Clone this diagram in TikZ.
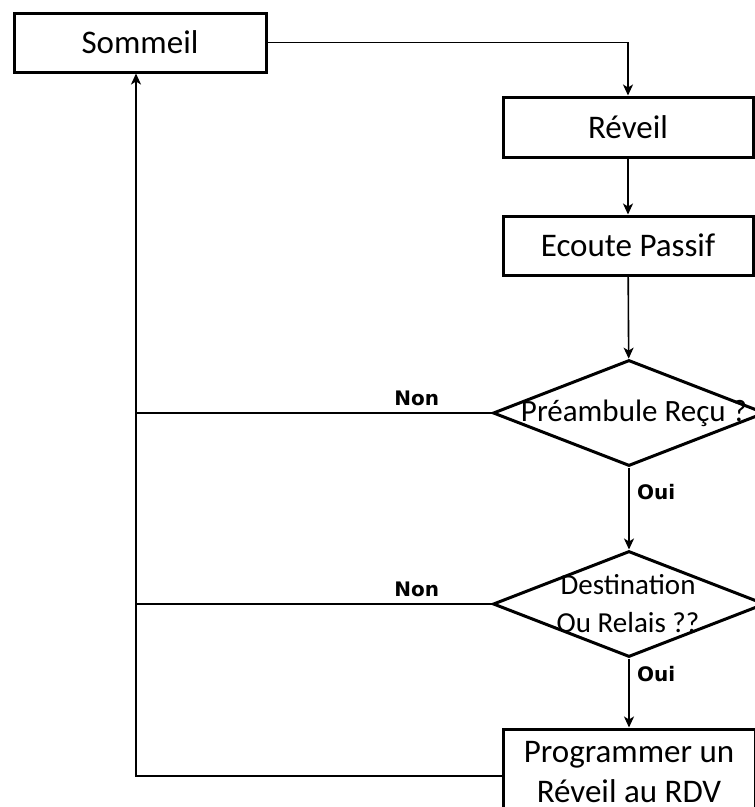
\documentclass[tikz,border=0pt]{standalone}
\usepackage{fontspec}
\setmainfont{Carlito}
\newfontfamily\lblfont{DejaVu Sans}
\usetikzlibrary{shapes.geometric}
\usetikzlibrary{arrows.meta}
\usetikzlibrary{positioning}
\newcommand\boxfont{\fontsize{33}{40}\selectfont}
\newcommand\answer[1]{{\lblfont\bfseries\fontsize{20}{22}\selectfont #1}}

\begin{document}
\begin{tikzpicture}[x=1pt,y=-1pt,
    stepbox/.style={draw,rectangle,line width=3pt,minimum width=252pt,
      minimum height=59pt,inner sep=0pt,font=\boxfont,align=center},
    choice/.style={draw,diamond,line width=3pt,minimum width=272pt,
      minimum height=106pt,inner sep=0pt},
    choicetext/.style={font=\boxfont,align=center,inner sep=0pt},
    link/.style={line width=1.6pt},
    arr/.style={link,-{Stealth[length=11pt,width=10pt,inset=3pt]}}]
  %
  \useasboundingbox (0,0) rectangle (755,807);
  \clip (0,0) rectangle (755,807);

  % boxes
  \node[stepbox] (sommeil) at (140,42.5) {Sommeil};
  \node[stepbox,minimum width=250pt,minimum height=60pt] (reveil) at (628,127) {R\'eveil};
  \node[stepbox,minimum width=250pt] (ecoute) at (628,245.5) {Ecoute Passif};

  \node[choice] (d1) at (629,413) {};
  \node[choicetext,font=\fontsize{31}{38}\selectfont] (d1txt) at (634,413) {Pr\'eambule Re\c{c}u ?};

  \node[choice] (d2) at (629,604) {};
  \node[choicetext,font=\fontsize{29}{38}\selectfont] (d2txt) at (628,604) {Destination\\Ou Relais ??};

  \node[stepbox,minimum height=94pt] (prog) at (629,776) {};
  \node[choicetext] (progtxt) at (629,772) {Programmer un\\R\'eveil au RDV};

  \coordinate (bus) at (136,776);

  % arrows
  \draw[arr] (sommeil.east) -| (reveil.north);
  \draw[arr] (reveil) -- (ecoute);
  \draw[arr] (ecoute) -- (d1);
  \draw[arr] (d1) -- node[pos=0.3,anchor=west,xshift=4pt] {\answer{Oui}} (d2);
  \draw[arr] (d2) -- node[pos=0.22,anchor=west,xshift=4pt] {\answer{Oui}} (prog);

  \draw[link] (d1.west) -- node[pos=0.21,above=3pt] {\answer{Non}} (d1.west -| bus);
  \draw[link] (d2.west) -- node[pos=0.21,above=3pt] {\answer{Non}} (d2.west -| bus);
  \draw[arr] (prog.west |- bus) -- (bus) -- (bus |- sommeil.south);

\end{tikzpicture}
\end{document}
